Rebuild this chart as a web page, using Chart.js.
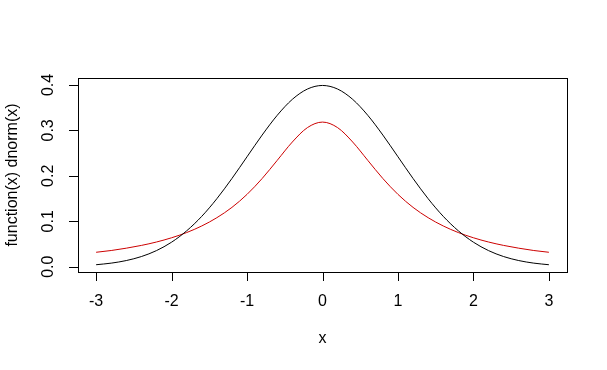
<!DOCTYPE html>
<html>
<head>
<meta charset="utf-8">
<script src="https://cdn.jsdelivr.net/npm/chart.js@4"></script>
<style>
  html, body { margin: 0; padding: 0; background: #fff; }
  #wrap { width: 607px; height: 370px; }
</style>
</head>
<body>
<div id="wrap"><canvas id="plot" width="607" height="370"></canvas></div>
<script>
// x grid and the two curves
const xs = [-3, -2.8, -2.6, -2.4, -2.2, -2, -1.8, -1.6, -1.4, -1.2, -1, -0.8, -0.6, -0.4, -0.2, 0,
  0.2, 0.4, 0.6, 0.8, 1, 1.2, 1.4, 1.6, 1.8, 2, 2.2, 2.4, 2.6, 2.8, 3];
const dnormY = [0.0044, 0.0079, 0.0136, 0.0224, 0.0355, 0.0540, 0.0790, 0.1109, 0.1497, 0.1942, 0.2420,
  0.2897, 0.3332, 0.3683, 0.3910, 0.3989, 0.3910, 0.3683, 0.3332, 0.2897, 0.2420, 0.1942, 0.1497,
  0.1109, 0.0790, 0.0540, 0.0355, 0.0224, 0.0136, 0.0079, 0.0044];
const redY = [0.0318, 0.0357, 0.0408, 0.0469, 0.0544, 0.0637, 0.0752, 0.0897, 0.1079, 0.1306, 0.1592,
  0.1941, 0.2341, 0.2744, 0.3061, 0.3183, 0.3061, 0.2744, 0.2341, 0.1941, 0.1592, 0.1306, 0.1079,
  0.0897, 0.0752, 0.0637, 0.0544, 0.0469, 0.0408, 0.0357, 0.0318];
const xTicks = [-3, -2, -1, 0, 1, 2, 3];
const yTicks = [0.0, 0.1, 0.2, 0.3, 0.4];
const xLabel = 'x';
const yLabel = 'function(x) dnorm(x)';

const pts = (ys) => xs.map((x, i) => ({x: x, y: ys[i]}));

// R style box + axes, drawn with the chart's scales
const rAxes = {
  id: 'rAxes',
  afterDraw(chart) {
    const c = chart.ctx, a = chart.chartArea;
    const sx = chart.scales.x, sy = chart.scales.y;
    c.save();
    c.strokeStyle = '#000';
    c.lineWidth = 1;
    c.strokeRect(Math.round(a.left) + 0.5, Math.round(a.top) + 0.5,
      Math.round(a.right - a.left), Math.round(a.bottom - a.top));
    c.fillStyle = '#000';
    c.font = '16px "Liberation Sans", Arial, sans-serif';
    c.textAlign = 'center';
    c.textBaseline = 'middle';
    c.beginPath();
    xTicks.forEach(v => {
      const px = Math.round(sx.getPixelForValue(v)) + 0.5;
      c.moveTo(px, a.bottom); c.lineTo(px, a.bottom + 9);
    });
    yTicks.forEach(v => {
      const py = Math.round(sy.getPixelForValue(v)) + 0.5;
      c.moveTo(a.left, py); c.lineTo(a.left - 9, py);
    });
    c.stroke();
    xTicks.forEach(v => {
      c.fillText(String(v), sx.getPixelForValue(v), a.bottom + 30);
    });
    yTicks.forEach(v => {
      c.save();
      c.translate(49, sy.getPixelForValue(v));
      c.rotate(-Math.PI / 2);
      c.fillText(v.toFixed(1), 0, 0);
      c.restore();
    });
    c.fillText(xLabel, (a.left + a.right) / 2, a.bottom + 67);
    c.save();
    c.translate(13, (a.top + a.bottom) / 2);
    c.rotate(-Math.PI / 2);
    c.fillText(yLabel, 0, 0);
    c.restore();
    c.restore();
  }
};

new Chart(document.getElementById('plot'), {
  type: 'line',
  data: {
    datasets: [{
      label: 'dnorm',
      data: pts(dnormY),
      borderColor: '#000',
      borderWidth: 1,
      pointRadius: 0,
      cubicInterpolationMode: 'monotone'
    }, {
      label: 'function',
      data: pts(redY),
      borderColor: '#cc0000',
      borderWidth: 1,
      pointRadius: 0,
      cubicInterpolationMode: 'monotone'
    }]
  },
  options: {
    responsive: false,
    animation: false,
    layout: { padding: { left: 78, right: 40, top: 78, bottom: 98 } },
    plugins: { legend: { display: false }, tooltip: { enabled: false } },
    scales: {
      x: { type: 'linear', min: -3.24, max: 3.24, display: false },
      y: { type: 'linear', min: -0.0116, max: 0.4153, display: false }
    }
  },
  plugins: [rAxes]
});
</script>
</body>
</html>
